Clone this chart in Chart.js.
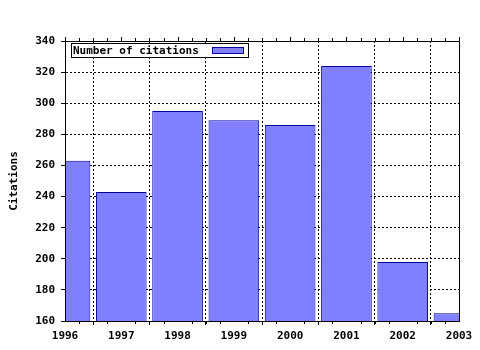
<!DOCTYPE html>
<html>
<head>
<meta charset="utf-8">
<script src="https://cdn.jsdelivr.net/npm/chart.js@4"></script>
<style>
  html, body { margin: 0; padding: 0; background: #fff; }
  #wrap { width: 480px; height: 350px; }
</style>
</head>
<body>
<div id="wrap"><canvas id="myChart" width="480" height="350"></canvas></div>
<script>
const years = [1996, 1997, 1998, 1999, 2000, 2001, 2002, 2003];
const citations = [263, 243, 295, 289, 286, 324, 198, 165];
const seriesLabel = 'Number of citations';
const yTitle = 'Citations';

const FONT = { family: 'DejaVu Sans Mono', size: 11, weight: 'bold' };

const framePlugin = {
  id: 'frame',
  afterDraw(chart) {
    const { ctx, chartArea: a, scales } = chart;
    ctx.save();
    ctx.strokeStyle = '#000';
    ctx.lineWidth = 1;
    ctx.setLineDash([]);
    ctx.beginPath();
    ctx.rect(Math.round(a.left) + 0.5, Math.round(a.top) + 0.5,
             Math.round(a.right - a.left), Math.round(a.bottom - a.top));
    ctx.stroke();

    // minor / top ticks along x
    ctx.beginPath();
    const xs = scales.x;
    for (let v = years[0]; v <= years[years.length - 1] + 0.001; v += 0.25) {
      const px = Math.round(xs.getPixelForValue(v)) + 0.5;
      const major = Math.abs(v - Math.round(v)) < 0.001;
      const len = major ? 4 : 3;
      ctx.moveTo(px, Math.round(a.top));
      ctx.lineTo(px, Math.round(a.top) - len);
      if (!major) {
        ctx.moveTo(px, Math.round(a.bottom));
        ctx.lineTo(px, Math.round(a.bottom) + len);
      }
    }
    ctx.stroke();

    // legend box
    const lx = Math.round(a.left) + 6, ly = Math.round(a.top) + 2;
    const lw = 177, lh = 14;
    ctx.fillStyle = '#fff';
    ctx.fillRect(lx, ly, lw, lh);
    ctx.strokeRect(lx + 0.5, ly + 0.5, lw, lh);
    ctx.font = 'bold 11px "DejaVu Sans Mono"';
    ctx.fillStyle = '#000';
    ctx.textBaseline = 'middle';
    ctx.fillText(chart.data.datasets[0].label, lx + 2, ly + lh / 2 + 1);
    ctx.fillStyle = '#8080ff';
    ctx.fillRect(lx + 141, ly + 4, 31, 7);
    ctx.strokeStyle = '#000099';
    ctx.strokeRect(lx + 141.5, ly + 4.5, 31, 6);
    ctx.restore();
  }
};

const gridOpts = {
  color: '#000',
  lineWidth: 1,
  borderDash: [2, 2],
  tickBorderDash: [],
  tickColor: '#000',
  tickLength: 4
};

const ctx = document.getElementById('myChart').getContext('2d');
new Chart(ctx, {
  type: 'bar',
  data: {
    datasets: [{
      label: seriesLabel,
      data: years.map((yr, i) => ({ x: yr, y: citations[i] })),
      backgroundColor: '#8080ff',
      borderColor: '#000099',
      borderWidth: 1,
      borderSkipped: false,
      barPercentage: 0.9,
      categoryPercentage: 1.0
    }]
  },
  options: {
    responsive: false,
    animation: false,
    layout: { padding: { left: 0, right: 21, top: 41, bottom: 0 } },
    scales: {
      x: {
        type: 'linear',
        min: 1996,
        max: 2003,
        offset: false,
        grid: gridOpts,
        border: { display: true, color: '#000', dash: [2, 2] },
        ticks: {
          stepSize: 1,
          color: '#000',
          font: FONT,
          padding: 5,
          maxRotation: 0,
          callback: v => String(v)
        },
        afterFit(scale) { scale.height = 29; }
      },
      y: {
        min: 160,
        max: 340,
        grid: gridOpts,
        border: { display: true, color: '#000', dash: [2, 2] },
        ticks: { stepSize: 20, color: '#000', font: FONT, padding: 6 },
        title: {
          display: true,
          text: yTitle,
          color: '#000',
          font: FONT,
          padding: { top: 8, bottom: 0 }
        },
        afterFit(scale) { scale.width = 65; }
      }
    },
    plugins: {
      legend: { display: false },
      tooltip: { enabled: false }
    }
  },
  plugins: [framePlugin]
});
</script>
</body>
</html>
